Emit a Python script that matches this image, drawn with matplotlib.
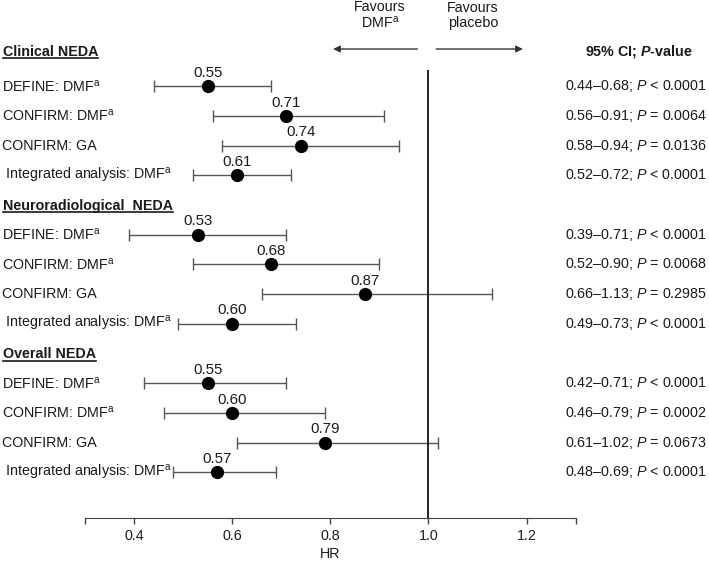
import matplotlib
matplotlib.use("Agg")
import matplotlib.pyplot as plt
from matplotlib.transforms import blended_transform_factory
from matplotlib.lines import Line2D

plt.rcParams["font.family"] = ["Liberation Sans", "DejaVu Sans"]
plt.rcParams["mathtext.fontset"] = "custom"
plt.rcParams["mathtext.rm"] = "Liberation Sans"
plt.rcParams["mathtext.it"] = "Liberation Sans:italic"
plt.rcParams["mathtext.bf"] = "Liberation Sans:bold"
plt.rcParams["mathtext.bfit"] = "Liberation Sans:bold:italic"

# data
groups = ["Clinical NEDA", "Neuroradiological  NEDA", "Overall NEDA"]
row_labels = ["DEFINE: DMF$^{\\mathrm{a}}$", "CONFIRM: DMF$^{\\mathrm{a}}$", "CONFIRM: GA",
              " Integrated analysis: DMF$^{\\mathrm{a}}$"]

clinical_hr = [0.55, 0.71, 0.74, 0.61]
clinical_lo = [0.44, 0.56, 0.58, 0.52]
clinical_hi = [0.68, 0.91, 0.94, 0.72]
clinical_p = ["< 0.0001", "= 0.0064", "= 0.0136", "< 0.0001"]

neuro_hr = [0.53, 0.68, 0.87, 0.60]
neuro_lo = [0.39, 0.52, 0.66, 0.49]
neuro_hi = [0.71, 0.90, 1.13, 0.73]
neuro_p = ["< 0.0001", "= 0.0068", "= 0.2985", "< 0.0001"]

overall_hr = [0.55, 0.60, 0.79, 0.57]
overall_lo = [0.42, 0.46, 0.61, 0.48]
overall_hi = [0.71, 0.79, 1.02, 0.69]
overall_p = ["< 0.0001", "= 0.0002", "= 0.0673", "< 0.0001"]

tick_vals = [0.3, 0.4, 0.6, 0.8, 1.0, 1.2, 1.3]
tick_labels = ["", "0.4", "0.6", "0.8", "1.0", "1.2", ""]

series = [
    (clinical_hr, clinical_lo, clinical_hi, clinical_p),
    (neuro_hr, neuro_lo, neuro_hi, neuro_p),
    (overall_hr, overall_lo, overall_hi, overall_p),
]

TXT = "#1a1a1a"
FS = 10.3
fig = plt.figure(figsize=(7.09, 5.63), dpi=100)
ax = fig.add_axes([85 / 709, 45.3 / 563, 490.7 / 709, 517.7 / 563])
ax.set_xlim(0.3, 1.3)
ax.set_ylim(15.53, -1.9)
for s in ["top", "right", "left"]:
    ax.spines[s].set_visible(False)
ax.spines["bottom"].set_color("#444444")
ax.set_yticks([])
ax.set_xticks(tick_vals)
ax.set_xticklabels(tick_labels, fontsize=FS, color=TXT)
ax.tick_params(axis="x", length=4, width=1, color="#444444", pad=4)
ax.set_xlabel("HR", fontsize=FS, color=TXT, labelpad=3)

left_tr = blended_transform_factory(fig.transFigure, ax.transData)

headers = []
slot = 0
for gi, (name, (hr, lo, hi, pv)) in enumerate(zip(groups, series)):
    hy = slot - 0.2 if gi == 0 else slot
    t = ax.text(0.004, hy + 0.17, name, transform=left_tr, fontsize=FS,
                fontweight="bold", color=TXT, va="baseline", ha="left")
    headers.append((t, hy + 0.17))
    slot += 1
    for i in range(len(hr)):
        y = slot
        ax.errorbar(hr[i], y, xerr=[[hr[i] - lo[i]], [hi[i] - hr[i]]], fmt="none",
                    ecolor="#555555", elinewidth=1, capsize=4, capthick=1, zorder=2)
        ax.plot(hr[i], y, "o", color="black", markersize=8.5, zorder=3)
        ax.annotate(f"{hr[i]:.2f}", (hr[i], y), xytext=(0, 4.5), textcoords="offset points",
                    ha="center", va="bottom", fontsize=10.8, color=TXT)
        ax.text(0.003, y, row_labels[i], transform=left_tr, fontsize=FS, color=TXT,
                va="center", ha="left")
        ax.text(0.997, y, f"{lo[i]:.2f}\u2013{hi[i]:.2f}; $P$ {pv[i]}", transform=left_tr,
                fontsize=FS, color=TXT, va="center", ha="right")
        slot += 1

# reference line at HR = 1
ax.vlines(1.0, 0.46, 15.53, color="black", linewidth=1.2, clip_on=False)

# header row
top_y = -0.25
ax.annotate("", xy=(0.8, top_y), xytext=(0.983, top_y),
            arrowprops=dict(arrowstyle="-|>", color="#333333", lw=1, mutation_scale=10))
ax.annotate("", xy=(1.198, top_y), xytext=(1.01, top_y),
            arrowprops=dict(arrowstyle="-|>", color="#333333", lw=1, mutation_scale=10))
ax.text(0.901, -1.38, "Favours\nDMF$^{\\mathrm{a}}$", ha="center", va="center",
        fontsize=FS, color=TXT, linespacing=1.1)
ax.text(1.091, -1.38, "Favours\nplacebo", ha="center", va="center",
        fontsize=FS, color=TXT, linespacing=1.1)
ax.text(0.901, top_y + 0.1, "95% CI; $\\mathbfit{P}$-value", transform=left_tr,
        ha="center", va="center", fontsize=FS, fontweight="bold", color=TXT)

# underline the group headers
fig.canvas.draw()
inv = fig.transFigure.inverted()
for t, yb in headers:
    bb = t.get_window_extent()
    base = ax.transData.transform((0, yb))[1] - 2.5
    (x0, y0), (x1, _) = inv.transform([(bb.x0, base), (bb.x1, base)])
    fig.add_artist(Line2D([x0, x1], [y0, y0], transform=fig.transFigure,
                          color=TXT, linewidth=1.2))

fig.savefig("out.png", dpi=100)
